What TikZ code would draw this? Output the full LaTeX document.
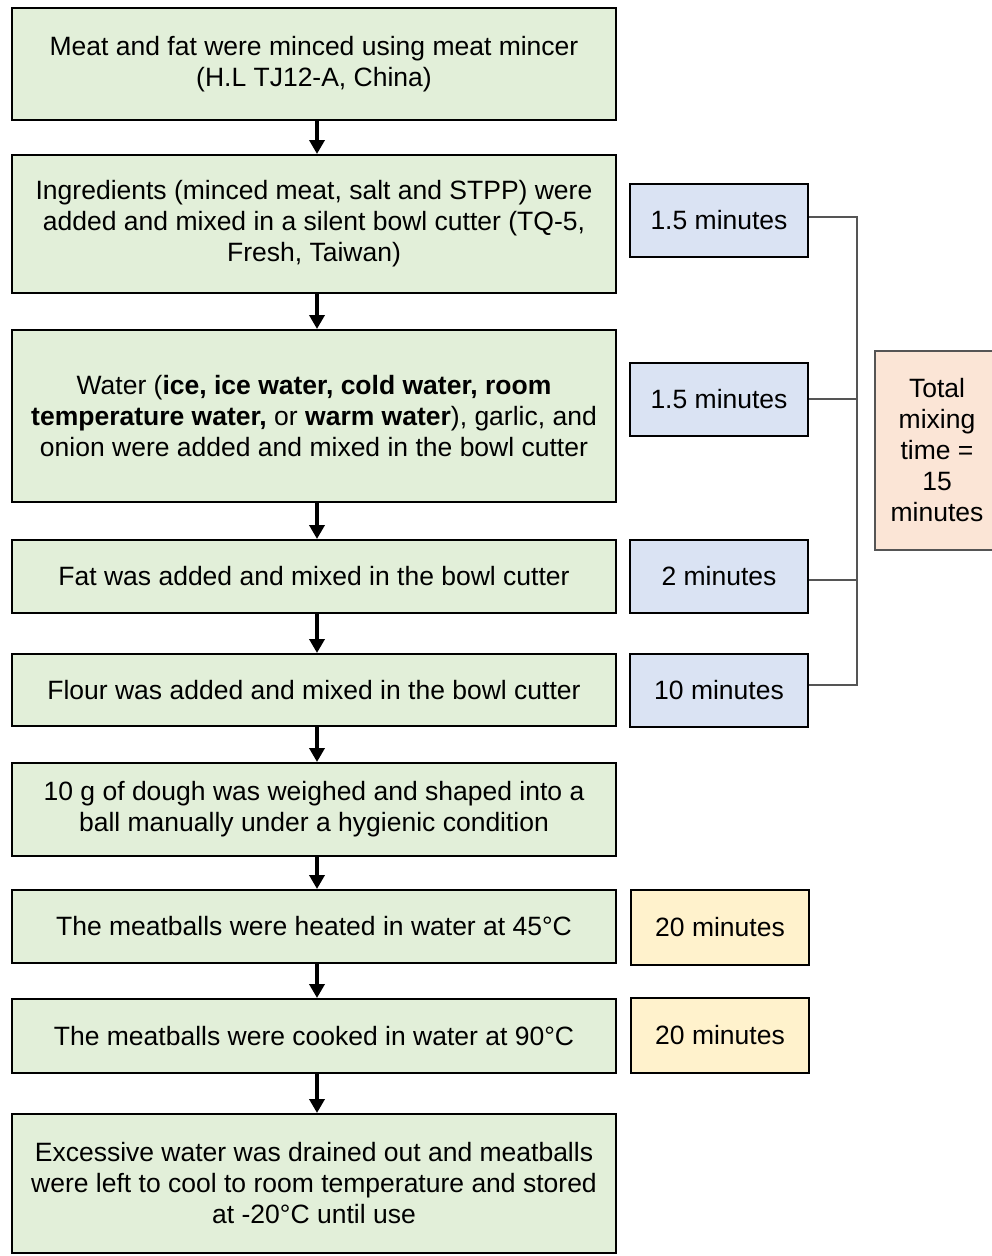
\documentclass[tikz,border=0pt]{standalone}
\usepackage{fontspec}
\setmainfont{Liberation Sans}
\usetikzlibrary{arrows.meta}
\definecolor{gfill}{HTML}{E2EFD9}
\definecolor{bfill}{HTML}{DAE3F3}
\definecolor{yfill}{HTML}{FFF2CC}
\definecolor{pfill}{HTML}{FBE5D6}
\definecolor{pborder}{HTML}{555555}
\tikzset{
  base/.style={draw=black, line width=2pt, inner sep=0pt, align=center,
    font=\fontsize{26.5}{31}\selectfont},
  stepbox/.style={base, fill=gfill, minimum width=604pt},
  bluebox/.style={base, fill=bfill, minimum width=178pt, minimum height=73pt},
  yelbox/.style={base, fill=yfill, minimum width=178pt, minimum height=75pt},
  peachbox/.style={base, fill=pfill, draw=pborder, line width=1.5pt, minimum width=124pt, minimum height=199pt},
  flow/.style={line width=3.5pt, -{Triangle[width=15pt,length=14pt]}},
  brace/.style={line width=1.5pt, draw=pborder}
}
\begin{document}
\begin{tikzpicture}[x=1pt,y=-1pt]
\useasboundingbox (0,0) rectangle (992,1256);
\fill[white] (0,0) rectangle (992,1256);
\node[stepbox, minimum height=112pt] (g1) at (314,64) {Meat and fat were minced using meat mincer\\(H.L TJ12-A, China)};
\node[stepbox, minimum height=138pt] (g2) at (314,224) {Ingredients (minced meat, salt and STPP) were\\added and mixed in a silent bowl cutter (TQ-5,\\Fresh, Taiwan)};
\node[stepbox, minimum height=172pt] (g3) at (314,416) {Water (\textbf{ice, ice water, cold water, room}\\\textbf{temperature water,} or \textbf{warm water}), garlic, and\\onion were added and mixed in the bowl cutter};
\node[stepbox, minimum height=73pt] (g4) at (314,576.5) {Fat was added and mixed in the bowl cutter};
\node[stepbox, minimum height=72pt] (g5) at (314,690) {Flour was added and mixed in the bowl cutter};
\node[stepbox, minimum height=93pt] (g6) at (314,809.5) {10 g of dough was weighed and shaped into a\\ball manually under a hygienic condition};
\node[stepbox, minimum height=73pt] (g7) at (314,926.5) {The meatballs were heated in water at 45°C};
\node[stepbox, minimum height=74pt] (g8) at (314,1036) {The meatballs were cooked in water at 90°C};
\node[stepbox, minimum height=139pt] (g9) at (314,1183.5) {Excessive water was drained out and meatballs\\were left to cool to room temperature and stored\\at -20°C until use};

\foreach \a/\b in {g1/g2,g2/g3,g3/g4,g4/g5,g5/g6,g6/g7,g7/g8,g8/g9}
  \draw[flow] ([xshift=3pt]\a.south) -- ([xshift=3pt]\b.north);

\node[bluebox] (b1) at (719,220.5) {1.5 minutes};
\node[bluebox] (b2) at (719,399.5) {1.5 minutes};
\node[bluebox] (b3) at (719,576) {2 minutes};
\node[bluebox] (b4) at (719,690) {10 minutes};
\node[yelbox] (y1) at (720,927.5) {20 minutes};
\node[yelbox] (y2) at (720,1035.5) {20 minutes};
\node[peachbox] (p) at (937,450.5) {Total\\mixing\\time =\\15\\minutes};

\coordinate (c1) at (857,217);
\coordinate (c2) at (857,399);
\coordinate (c3) at (857,580);
\coordinate (c4) at (857,685);
\draw[brace] (b1.east |- c1) -- (c1) -- (c4) -- (b4.east |- c4);
\draw[brace] (b2.east |- c2) -- (c2);
\draw[brace] (b3.east |- c3) -- (c3);
\end{tikzpicture}
\end{document}
